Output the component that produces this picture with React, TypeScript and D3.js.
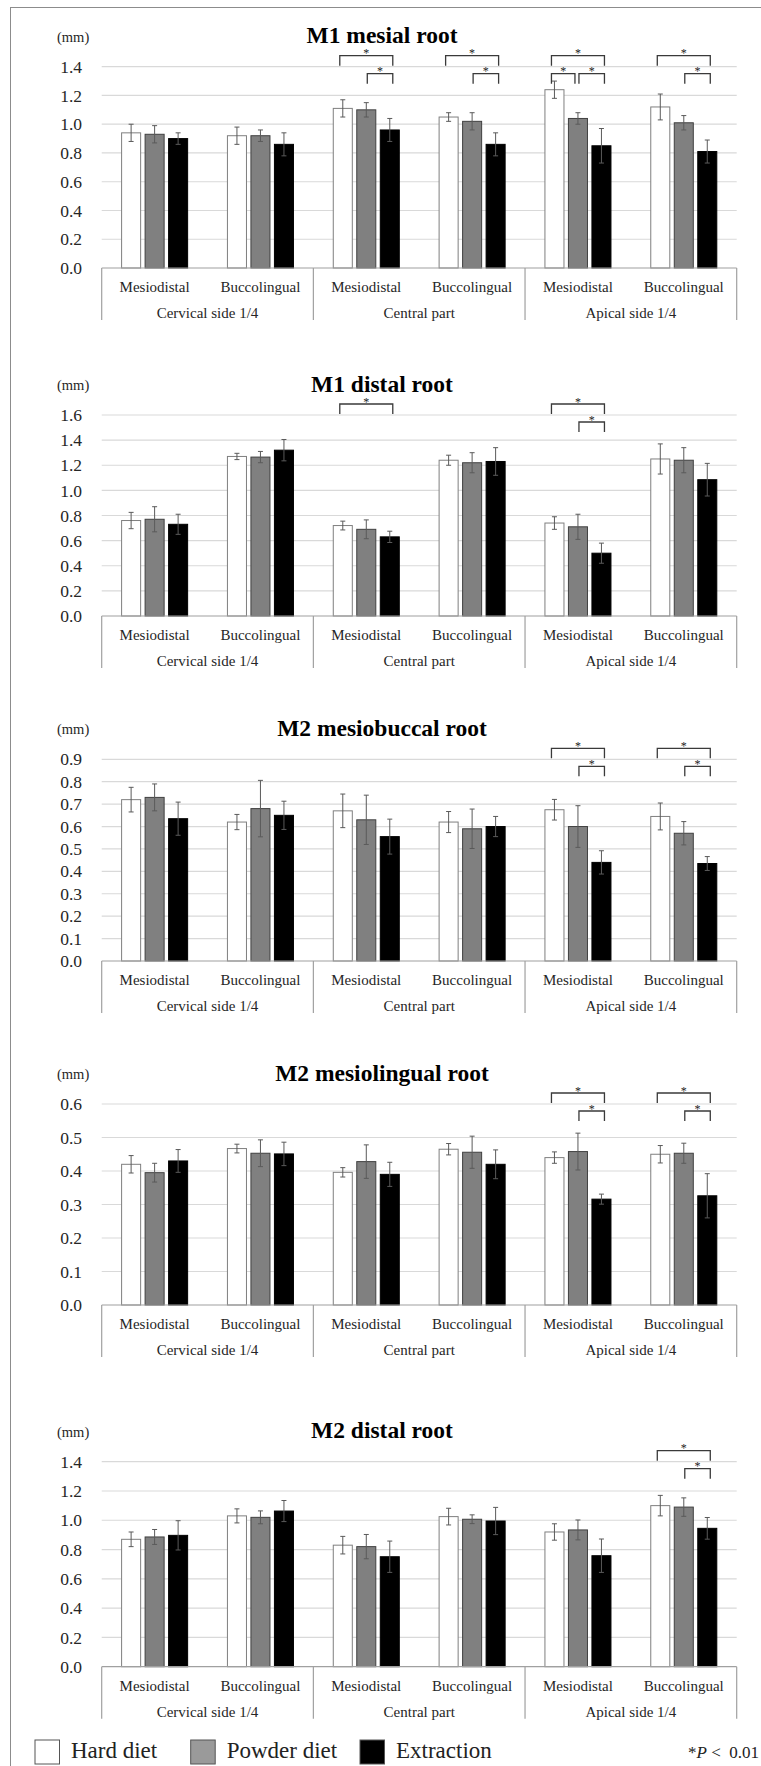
import React from "react";
import * as d3 from "d3";

// groups and series
const seriesNames = ["Hard diet", "Powder diet", "Extraction"];
const subCategories = ["Mesiodistal", "Buccolingual", "Mesiodistal", "Buccolingual", "Mesiodistal", "Buccolingual"];
const groupNames = ["Cervical side 1/4", "Central part", "Apical side 1/4"];

const panelTitles = ["M1 mesial root", "M1 distal root", "M2 mesiobuccal root", "M2 mesiolingual root", "M2 distal root"];
const panelMax = [1.4, 1.6, 0.9, 0.6, 1.4];
const panelStep = [0.2, 0.2, 0.1, 0.1, 0.2];

// M1 mesial root
const m1MesialHard = [0.94, 0.92, 1.11, 1.05, 1.24, 1.12];
const m1MesialHardErr = [0.06, 0.06, 0.06, 0.03, 0.06, 0.09];
const m1MesialPowder = [0.93, 0.92, 1.1, 1.02, 1.04, 1.01];
const m1MesialPowderErr = [0.06, 0.04, 0.05, 0.06, 0.04, 0.05];
const m1MesialExtraction = [0.9, 0.86, 0.96, 0.86, 0.85, 0.81];
const m1MesialExtractionErr = [0.04, 0.08, 0.08, 0.08, 0.12, 0.08];

// M1 distal root
const m1DistalHard = [0.76, 1.27, 0.72, 1.24, 0.74, 1.25];
const m1DistalHardErr = [0.065, 0.025, 0.035, 0.04, 0.05, 0.12];
const m1DistalPowder = [0.77, 1.265, 0.69, 1.22, 0.71, 1.24];
const m1DistalPowderErr = [0.1, 0.045, 0.075, 0.08, 0.1, 0.1];
const m1DistalExtraction = [0.73, 1.32, 0.63, 1.23, 0.5, 1.085];
const m1DistalExtractionErr = [0.08, 0.085, 0.045, 0.11, 0.08, 0.13];

// M2 mesiobuccal root
const m2MbHard = [0.72, 0.62, 0.67, 0.62, 0.675, 0.645];
const m2MbHardErr = [0.055, 0.034, 0.075, 0.047, 0.046, 0.06];
const m2MbPowder = [0.73, 0.68, 0.63, 0.59, 0.6, 0.57];
const m2MbPowderErr = [0.06, 0.126, 0.11, 0.088, 0.093, 0.052];
const m2MbExtraction = [0.635, 0.65, 0.555, 0.6, 0.44, 0.435];
const m2MbExtractionErr = [0.074, 0.063, 0.078, 0.045, 0.052, 0.031];

// M2 mesiolingual root
const m2MlHard = [0.42, 0.467, 0.396, 0.465, 0.44, 0.45];
const m2MlHardErr = [0.026, 0.013, 0.014, 0.017, 0.017, 0.026];
const m2MlPowder = [0.395, 0.453, 0.428, 0.456, 0.458, 0.453];
const m2MlPowderErr = [0.028, 0.04, 0.05, 0.048, 0.055, 0.03];
const m2MlExtraction = [0.43, 0.451, 0.39, 0.42, 0.316, 0.326];
const m2MlExtractionErr = [0.034, 0.035, 0.036, 0.043, 0.015, 0.066];

// M2 distal root
const m2DistalHard = [0.87, 1.03, 0.83, 1.025, 0.92, 1.1];
const m2DistalHardErr = [0.05, 0.048, 0.06, 0.057, 0.056, 0.07];
const m2DistalPowder = [0.886, 1.02, 0.82, 1.007, 0.934, 1.09];
const m2DistalPowderErr = [0.051, 0.044, 0.083, 0.03, 0.068, 0.063];
const m2DistalExtraction = [0.897, 1.063, 0.751, 0.995, 0.758, 0.945];
const m2DistalExtractionErr = [0.1, 0.072, 0.107, 0.093, 0.114, 0.074];

// significance brackets: [category, from series, to series, level]
const m1MesialSig = [[2, 0, 2, 0], [2, 1, 2, 1], [3, 0, 2, 0], [3, 1, 2, 1], [4, 0, 2, 0], [4, 0, 1, 1], [4, 1, 2, 1], [5, 0, 2, 0], [5, 1, 2, 1]];
const m1DistalSig = [[2, 0, 2, 0], [4, 0, 2, 0], [4, 1, 2, 1]];
const m2MbSig = [[4, 0, 2, 0], [4, 1, 2, 1], [5, 0, 2, 0], [5, 1, 2, 1]];
const m2MlSig = [[4, 0, 2, 0], [4, 1, 2, 1], [5, 0, 2, 0], [5, 1, 2, 1]];
const m2DistalSig = [[5, 0, 2, 0], [5, 1, 2, 1]];

const panelValues = [
  [m1MesialHard, m1MesialPowder, m1MesialExtraction],
  [m1DistalHard, m1DistalPowder, m1DistalExtraction],
  [m2MbHard, m2MbPowder, m2MbExtraction],
  [m2MlHard, m2MlPowder, m2MlExtraction],
  [m2DistalHard, m2DistalPowder, m2DistalExtraction],
];
const panelErrors = [
  [m1MesialHardErr, m1MesialPowderErr, m1MesialExtractionErr],
  [m1DistalHardErr, m1DistalPowderErr, m1DistalExtractionErr],
  [m2MbHardErr, m2MbPowderErr, m2MbExtractionErr],
  [m2MlHardErr, m2MlPowderErr, m2MlExtractionErr],
  [m2DistalHardErr, m2DistalPowderErr, m2DistalExtractionErr],
];
const panelSig = [m1MesialSig, m1DistalSig, m2MbSig, m2MlSig, m2DistalSig];

// layout
const W = 761;
const H = 1766;
const plotLeft = 101.7;
const plotRight = 736.7;
const panelTop = [66.7, 415, 759.3, 1104, 1461.7];
const panelZero = [268, 616, 961, 1305, 1666.7];
const FONT = "'Liberation Serif', 'Times New Roman', serif";

const barFill = ["#ffffff", "#808080", "#000000"];
const barStroke = ["#7f7f7f", "#404040", "#000000"];
const legendFill = ["#ffffff", "#9a9a9a", "#000000"];

const x0 = d3.scaleBand<number>().domain(d3.range(6)).range([plotLeft, plotRight]).padding(0);
const x1 = d3.scaleBand<number>().domain(d3.range(3)).range([0, x0.bandwidth()]).paddingInner(0.19).paddingOuter(0.847);
const fmt = d3.format(".1f");

function Panel({ idx }: { idx: number }) {
  const top = panelTop[idx];
  const zero = panelZero[idx];
  const y = d3.scaleLinear().domain([0, panelMax[idx]]).range([zero, top]);
  const ticks = d3.range(0, Math.round(panelMax[idx] / panelStep[idx]) + 1).map((i) => i * panelStep[idx]);
  const groupW = (plotRight - plotLeft) / 3;
  const cx = (c: number, s: number) => (x0(c) as number) + (x1(s) as number) + x1.bandwidth() / 2;

  return (
    <g>
      <text x={382} y={top - 23.5} textAnchor="middle" fontFamily={FONT} fontWeight="bold" fontSize={23.5} fill="#000">
        {panelTitles[idx]}
      </text>
      <text x={57} y={top - 25} fontFamily={FONT} fontSize={14.5} fill="#262626">(mm)</text>

      {ticks.map((t, i) => (
        <g key={i}>
          {i > 0 && <line x1={plotLeft} x2={plotRight} y1={y(t)} y2={y(t)} stroke="#d9d9d9" strokeWidth={1.2} />}
          <text x={82} y={y(t)} dy="0.35em" textAnchor="end" fontFamily={FONT} fontSize={17.5} fill="#262626">
            {fmt(t)}
          </text>
        </g>
      ))}

      {panelValues[idx].map((vals, s) =>
        vals.map((v, c) => (
          <rect
            key={`b${s}-${c}`}
            x={(x0(c) as number) + (x1(s) as number)}
            y={y(v)}
            width={x1.bandwidth()}
            height={zero - y(v)}
            fill={barFill[s]}
            stroke={barStroke[s]}
            strokeWidth={1}
          />
        ))
      )}

      {panelValues[idx].map((vals, s) =>
        vals.map((v, c) => {
          const e = panelErrors[idx][s][c];
          const x = cx(c, s);
          return (
            <g key={`e${s}-${c}`} stroke="#5a5a5a" strokeWidth={1}>
              <line x1={x} x2={x} y1={y(v - e)} y2={y(v + e)} />
              <line x1={x - 2.5} x2={x + 2.5} y1={y(v + e)} y2={y(v + e)} />
              <line x1={x - 2.5} x2={x + 2.5} y1={y(v - e)} y2={y(v - e)} />
            </g>
          );
        })
      )}

      <line x1={plotLeft} x2={plotRight} y1={zero} y2={zero} stroke="#a0a0a0" strokeWidth={1.2} />
      {d3.range(4).map((k) => (
        <line key={k} x1={plotLeft + k * groupW} x2={plotLeft + k * groupW} y1={zero} y2={zero + 52} stroke="#a0a0a0" strokeWidth={1.2} />
      ))}
      {subCategories.map((name, c) => (
        <text key={c} x={(x0(c) as number) + x0.bandwidth() / 2} y={zero + 24} textAnchor="middle" fontFamily={FONT} fontSize={15} fill="#262626">
          {name}
        </text>
      ))}
      {groupNames.map((name, g) => (
        <text key={g} x={plotLeft + (g + 0.5) * groupW} y={zero + 50} textAnchor="middle" fontFamily={FONT} fontSize={15} fill="#262626">
          {name}
        </text>
      ))}

      {panelSig[idx].map(([c, a, b, level], i) => {
        const xa = cx(c, a) + (a === 0 ? -3 : 1);
        const xb = cx(c, b) + (b === 2 ? 3 : -3);
        const ly = level === 0 ? top - 11 : top + 7;
        return (
          <g key={`s${i}`}>
            <path d={`M${xa},${ly + 10}V${ly}H${xb}V${ly + 10}`} fill="none" stroke="#3a3a3a" strokeWidth={1.3} />
            <text x={(xa + xb) / 2} y={ly + 1.5} textAnchor="middle" fontFamily={FONT} fontSize={12} fill="#222">*</text>
          </g>
        );
      })}
    </g>
  );
}

export default function App() {
  const legendX = [35, 190.7, 360];
  return (
    <div style={{ position: "absolute", left: 0, top: 0 }}>
      <svg width={W} height={H} style={{ display: "block", background: "#fff" }}>
        <line x1={10.5} x2={10.5} y1={7} y2={H} stroke="#8c8c8c" strokeWidth={1} />
        <line x1={10} x2={W} y1={7.5} y2={7.5} stroke="#8c8c8c" strokeWidth={1} />
        {panelTitles.map((_, i) => (
          <Panel key={i} idx={i} />
        ))}
        {seriesNames.map((name, s) => (
          <g key={s}>
            <rect x={legendX[s]} y={1740} width={24.5} height={24} fill={legendFill[s]} stroke="#555" strokeWidth={1} />
            <text x={legendX[s] + 36} y={1758} fontFamily={FONT} fontSize={23} fill="#222">{name}</text>
          </g>
        ))}
        <text x={688} y={1758} fontFamily={FONT} fontSize={17} fill="#222">
          *<tspan fontStyle="italic">P</tspan>{" < \u00a00.01"}
        </text>
      </svg>
    </div>
  );
}
